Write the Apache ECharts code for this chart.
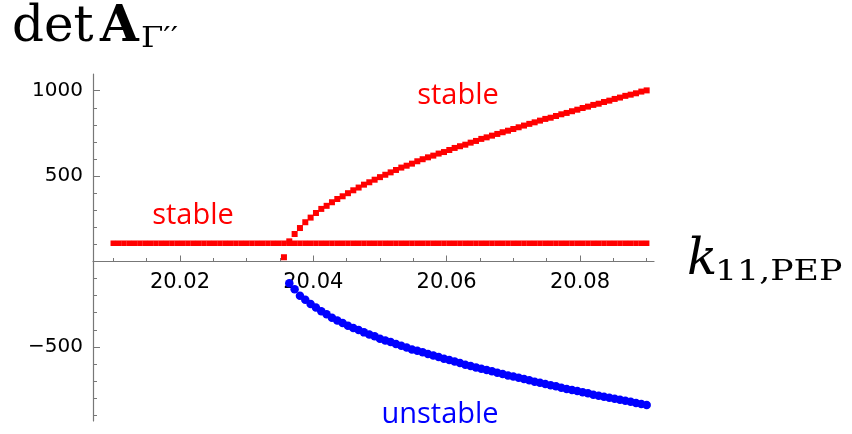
<!DOCTYPE html>
<html>
<head>
<meta charset="utf-8">
<script src="https://cdn.jsdelivr.net/npm/echarts@6/dist/echarts.min.js"></script>
<style>
  html, body { margin: 0; padding: 0; background: #fff; }
  #chart { width: 852px; height: 434px; }
</style>
</head>
<body>
<div id="chart"></div>
<script>
// Parameter sweep of k11,PEP (sampling grid)
const kStart = 20.01;
const kStep = 0.0008;
const kCount = 101;

// Flat stable branch value
const flatValue = 107;

// Upper stable branch, starts at sample index 32
const upperStartIndex = 32;
const upperValues = [25, 118, 161, 196, 230, 257, 284, 308, 326, 347, 366, 382, 400, 417, 433, 450, 464, 479,
  494, 508, 522, 536, 550, 561, 573, 587, 599, 610, 620, 632, 641, 653, 665, 675, 684, 696, 706, 718,
  727, 737, 747, 757, 766, 776, 786, 796, 806, 815, 825, 835, 842, 852, 862, 870, 880, 889, 899, 907,
  917, 924, 934, 942, 952, 960, 970, 977, 985, 995, 1002];

// Lower unstable branch, starts at sample index 33
const lowerStartIndex = 33;
const lowerValues = [-128, -162, -200, -224, -249, -270, -292, -309, -329, -345, -360, -376, -390, -401,
  -415, -427, -438, -452, -462, -472, -483, -493, -503, -515, -522, -532, -542, -550, -559, -569, -577,
  -585, -595, -604, -612, -620, -628, -636, -643, -651, -659, -667, -673, -681, -688, -696, -704, -710,
  -718, -725, -731, -739, -747, -753, -759, -766, -772, -780, -786, -792, -798, -804, -810, -815, -821,
  -829, -835, -841];

// Tick values
const xMajorTicks = [20.02, 20.04, 20.06, 20.08];
const xMinorTicks = [20.01, 20.015, 20.025, 20.03, 20.035, 20.045, 20.05, 20.055, 20.065, 20.07, 20.075, 20.085, 20.09];
const yLabelTicks = [-500, 500, 1000];
const yMajorTicks = [-500, 0, 500, 1000];
const yMinorTicks = [-900, -800, -700, -600, -400, -300, -200, -100, 100, 200, 300, 400, 600, 700, 800, 900];

const xMin = 20.00696, xMax = 20.0911;
const yMin = -934, yMax = 1098;

const kValues = [];
for (let i = 0; i < kCount; i++) kValues.push(+(kStart + i * kStep).toFixed(4));

const flatData = kValues.map(k => [k, flatValue]);
const upperData = upperValues.map((v, j) => [kValues[upperStartIndex + j], v]);
const lowerData = lowerValues.map((v, j) => [kValues[lowerStartIndex + j], v]);

const axisColor = '#777777';
const tickFont = 'DejaVu Sans';

// layout of the plotting box
const gridTop = 74, gridHeight = 347;
const zeroY = gridTop + gridHeight * yMax / (yMax - yMin);
const xAxisOffset = -(gridTop + gridHeight - zeroY);

const chart = echarts.init(document.getElementById('chart'), null, { renderer: 'canvas' });
chart.setOption({
  animation: false,
  backgroundColor: '#ffffff',
  grid: { left: 93, top: gridTop, width: 561, height: gridHeight, containLabel: false, outerBoundsMode: 'none' },
  xAxis: [
    {
      type: 'value', min: xMin, max: xMax, position: 'bottom', offset: xAxisOffset,
      axisLine: { show: true, onZero: false, lineStyle: { color: axisColor, width: 1.2 } },
      axisTick: { show: true, inside: true, length: 6, customValues: xMajorTicks, lineStyle: { color: axisColor } },
      axisLabel: { show: true, customValues: xMajorTicks, margin: 11, color: '#000', fontFamily: tickFont, fontSize: 21,
        formatter: v => v.toFixed(2) },
      splitLine: { show: false }
    },
    {
      type: 'value', min: xMin, max: xMax, position: 'bottom', offset: xAxisOffset,
      axisLine: { show: false, onZero: false },
      axisTick: { show: true, inside: true, length: 3.5, customValues: xMinorTicks, lineStyle: { color: axisColor } },
      axisLabel: { show: false },
      splitLine: { show: false }
    }
  ],
  yAxis: [
    {
      type: 'value', min: yMin, max: yMax, position: 'left',
      axisLine: { show: true, onZero: false, lineStyle: { color: axisColor, width: 1.2 } },
      axisTick: { show: true, inside: true, length: 7, customValues: yMajorTicks, lineStyle: { color: axisColor } },
      axisLabel: { show: true, customValues: yLabelTicks, margin: 10, color: '#000', fontFamily: tickFont, fontSize: 20,
        formatter: v => (v < 0 ? '\u2212' + (-v) : String(v)) },
      splitLine: { show: false }
    },
    {
      type: 'value', min: yMin, max: yMax, position: 'left',
      axisLine: { show: false, onZero: false },
      axisTick: { show: true, inside: true, length: 4, customValues: yMinorTicks, lineStyle: { color: axisColor } },
      axisLabel: { show: false },
      splitLine: { show: false }
    }
  ],
  series: [
    { type: 'scatter', name: 'flat', xAxisIndex: 0, yAxisIndex: 0, data: flatData,
      symbol: 'rect', symbolSize: 5.5, itemStyle: { color: '#ff0000', opacity: 1 } },
    { type: 'scatter', name: 'upper', xAxisIndex: 0, yAxisIndex: 0, data: upperData,
      symbol: 'rect', symbolSize: 6, itemStyle: { color: '#ff0000', opacity: 1 } },
    { type: 'scatter', name: 'lower', xAxisIndex: 0, yAxisIndex: 0, data: lowerData,
      symbol: 'circle', symbolSize: 8.5, itemStyle: { color: '#0000ff', opacity: 1 } }
  ],
  graphic: [
    { type: 'text', x: 12, y: 28, style: { text: 'det', font: '50px "DejaVu Serif"', fill: '#000', align: 'left', verticalAlign: 'middle' } },
    { type: 'text', x: 100, y: 28, style: { text: 'A', font: 'bold 50px "DejaVu Serif"', fill: '#000', align: 'left', verticalAlign: 'middle' } },
    { type: 'text', x: 141, y: 40, scaleX: 1.15, style: { text: 'Γ\u2032\u2032', font: '28px "DejaVu Serif"', fill: '#000', align: 'left', verticalAlign: 'middle' } },
    { type: 'text', x: 687, y: 261, style: { text: 'k', font: 'italic 50px "DejaVu Serif"', fill: '#000', align: 'left', verticalAlign: 'middle' } },
    { type: 'text', x: 715, y: 273, scaleX: 1.24, style: { text: '11,PEP', font: '28px "DejaVu Serif"', fill: '#000', align: 'left', verticalAlign: 'middle' } },
    { type: 'text', x: 458, y: 96, style: { text: 'stable', font: '29px "Open Sans"', fill: '#ff0000', align: 'center', verticalAlign: 'middle' } },
    { type: 'text', x: 193, y: 216, style: { text: 'stable', font: '29px "Open Sans"', fill: '#ff0000', align: 'center', verticalAlign: 'middle' } },
    { type: 'text', x: 440, y: 415, style: { text: 'unstable', font: '29px "Open Sans"', fill: '#0000ff', align: 'center', verticalAlign: 'middle' } }
  ]
});
</script>
</body>
</html>
